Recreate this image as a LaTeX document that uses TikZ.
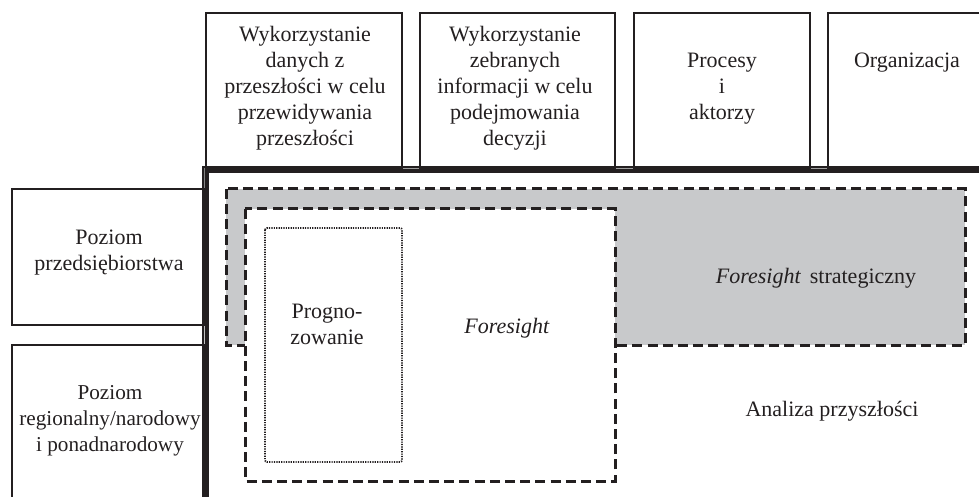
\documentclass[tikz,border=0pt]{standalone}
\usepackage{fontspec}
\setmainfont{Liberation Serif}
\definecolor{ink}{HTML}{231F20}
\definecolor{shade}{HTML}{C8C9CB}
\begin{document}
\begin{tikzpicture}[x=0.5pt,y=-0.5pt,
  txt/.style={text=ink, font=\fontsize{11}{13}\selectfont, align=center, inner sep=0pt},
  box/.style={draw=ink, line width=0.85pt},
  dashbox/.style={draw=ink, line width=1.5pt, dash pattern=on 5pt off 2.6pt},
  dotbox/.style={draw=ink, line width=0.9pt, dash pattern=on 0.6pt off 0.6pt, rounded corners=1pt},
  frame/.style={draw=ink, line width=2pt},
  thin/.style={draw=ink, line width=0.6pt}]
\useasboundingbox (0,0) rectangle (979,497);
\clip (0,0) rectangle (979,497);
% double frame strips
\fill[shade] (203,167) rectangle (979,171);
\fill[shade] (203,167) rectangle (207,497);
\draw[thin] (979,167) -- (203,167) -- (203,497);
% top boxes
\draw[box] (206,13) rectangle (402,168);
\draw[box] (420,13) rectangle (615,168);
\draw[box] (634,13) rectangle (810,168);
\draw[box] (990,168) -- (828,168) -- (828,13) -- (990,13);
% left boxes
\draw[box] (12,189) rectangle (204,325);
\draw[box] (204,520) -- (12,520) -- (12,345) -- (204,345) -- cycle;
% main frame
\draw[frame] (990,171) -- (207,171) -- (207,520);
% nested regions
\filldraw[fill=shade, dashbox] (226,189) rectangle (965,345);
\filldraw[fill=white, dashbox] (245,209) rectangle (615,481);
\draw[dotbox] (265,228) rectangle (402,462);
% texts
\node[txt] (t1) at (305,88) {Wykorzystanie\\danych z\\przeszłości w celu\\przewidywania\\przeszłości};
\node[txt] (t2) at (515,88) {Wykorzystanie\\zebranych\\informacji w celu\\podejmowania\\decyzji};
\node[txt] (t3) at (722,89) {Procesy\\i\\aktorzy};
\node[txt] (t4) at (907,63) {Organizacja};
\node[txt] (l1) at (109,253) {Poziom\\przedsiębiorstwa};
\node[txt, font=\fontsize{10.6}{13}\selectfont] (l2) at (110,421) {Poziom\\regionalny/narodowy\\i ponadnarodowy};
\node[txt] (p) at (327,324) {Progno-\\zowanie};
\node[txt] (f) at (507,328) {\textit{Foresight}};
\node[txt] (fs) at (816,278) {\textit{Foresight}\ \hspace{0.15em}strategiczny};
\node[txt] (a) at (832,411) {Analiza przyszłości};
\end{tikzpicture}
\end{document}
